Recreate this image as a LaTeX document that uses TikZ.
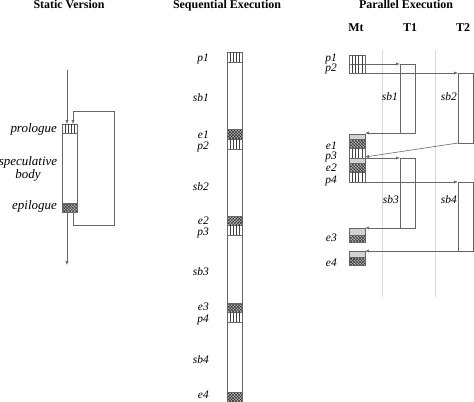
\documentclass[tikz,border=0pt]{standalone}
\usepackage{fontspec}
\setmainfont{Liberation Serif}
\usetikzlibrary{arrows.meta,patterns}
\tikzset{
  ln/.style={draw=black!60, line width=0.6pt},
  guide/.style={draw=black!15, line width=0.7pt},
  hl/.style={draw=black!75, line width=0.45pt},
  tip/.style={-{Latex[length=4pt,width=3.2pt]}},
  lab/.style={font=\fontsize{11.5}{11.5}\selectfont\itshape, inner sep=0pt, anchor=base east},
  slab/.style={font=\fontsize{13}{13}\selectfont\itshape, inner sep=0pt, anchor=base east},
  ttl/.style={font=\fontsize{12}{12}\selectfont\bfseries, inner sep=0pt, anchor=base},
}
% vertical-hatched cell
\newcommand\vhcell[4]{%
  \draw[ln, fill=white] (#1,#2) rectangle (#3,#4);
  \foreach \k in {1,...,4}{\draw[hl] ({#1+\k*(#3-#1)/5},#2) -- ({#1+\k*(#3-#1)/5},#4);}
}
% cross-hatched cell
\newcommand\xhcell[4]{%
  \fill[gray!55] (#1,#2) rectangle (#3,#4);
  \fill[pattern=crosshatch, pattern color=black!85] (#1,#2) rectangle (#3,#4);
  \draw[ln] (#1,#2) rectangle (#3,#4);
}
% gray+crosshatch cell (parallel epilogues)
\newcommand\gecell[3]{%
  \draw[ln, fill=gray!35] (349,#1) rectangle (365,#2);
  \xhcell{349}{#2}{365}{#3}
}
\begin{document}
\begin{tikzpicture}[x=1bp, y=-1bp]
\useasboundingbox (0,0) rectangle (474,401);

% ---------- titles ----------
\node[ttl] (tStatic) at (69,8) {Static Version};
\node[ttl] (tSeq) at (227,8) {Sequential Execution};
\node[ttl] (tPar) at (406,8) {Parallel Execution};
\node[ttl] (hMt) at (356,31) {Mt};
\node[ttl] (hT1) at (410,31) {T1};
\node[ttl] (hT2) at (463,31) {T2};

% ---------- static version ----------
\draw[ln, fill=white] (62,124) rectangle (77,212);
\vhcell{62}{124}{77}{133}
\xhcell{62}{203}{77}{212}
\coordinate (s0) at (67,70);
\coordinate (sIn) at (67,124);
\coordinate (sOut) at (67,212);
\coordinate (sEnd) at (67,265);
\draw[ln,tip] (s0) -- (sIn);
\draw[ln,tip] (sOut) -- (sEnd);
\coordinate (lA) at (73,212);
\coordinate (lB) at (73,225);
\coordinate (lC) at (114,225);
\coordinate (lD) at (114,111);
\coordinate (lE) at (73,111);
\coordinate (lF) at (73,124);
\draw[ln,tip] (lA) -- (lB) -- (lC) -- (lD) -- (lE) -- (lF);
\node[slab] (lPro) at (57,132) {prologue};
\node[slab, anchor=base] (lSpec) at (28,165) {speculative};
\node[slab, anchor=base] (lBody) at (28,178) {body};
\node[slab] (lEpi) at (57,209) {epilogue};

% ---------- sequential execution ----------
\draw[ln, fill=white] (227,52) rectangle (242,404);
\vhcell{227}{52}{242}{62}
\xhcell{227}{129}{242}{139}
\vhcell{227}{139}{242}{149}
\xhcell{227}{216}{242}{225}
\vhcell{227}{225}{242}{235}
\xhcell{227}{303}{242}{312}
\vhcell{227}{312}{242}{322}
\xhcell{227}{392}{242}{404}
\node[lab] (qp1) at (209,61) {p1};
\node[lab] (qsb1) at (209,101) {sb1};
\node[lab] (qe1) at (209,138) {e1};
\node[lab] (qp2) at (209,149) {p2};
\node[lab] (qsb2) at (209,190) {sb2};
\node[lab] (qe2) at (209,224) {e2};
\node[lab] (qp3) at (209,235) {p3};
\node[lab] (qsb3) at (209,275) {sb3};
\node[lab] (qe3) at (209,310) {e3};
\node[lab] (qp4) at (209,322) {p4};
\node[lab] (qsb4) at (209,363) {sb4};
\node[lab] (qe4) at (209,398) {e4};

% ---------- parallel execution ----------
\coordinate (g1a) at (382,50); \coordinate (g1b) at (382,297);
\coordinate (g2a) at (435,50); \coordinate (g2b) at (435,297);
\draw[guide] (g1a) -- (g1b);
\draw[guide] (g2a) -- (g2b);

% main thread cells
\vhcell{349}{55}{365}{64}
\vhcell{349}{64}{365}{73}
\gecell{134}{139}{148}
\vhcell{349}{148}{365}{158}
\gecell{158}{163}{172}
\vhcell{349}{172}{365}{182}
\gecell{228}{235}{242}
\gecell{251}{257}{265}

% thread bodies
\draw[ln] (400,64) rectangle (415,133);
\draw[ln] (458,73) rectangle (473,143);
\draw[ln] (400,158) rectangle (415,228);
\draw[ln] (458,182) rectangle (473,251);

% connectors
\coordinate (mP1) at (365,64);  \coordinate (a1) at (400,64);
\coordinate (r1) at (415,133);  \coordinate (mE1) at (365,133);
\coordinate (mP2) at (365,73);  \coordinate (a2) at (458,73);
\coordinate (r2) at (458,143);  \coordinate (mE2) at (365,157);
\coordinate (mP3) at (365,158); \coordinate (a3) at (400,158);
\coordinate (r3) at (415,228);  \coordinate (mE3) at (365,228);
\coordinate (mP4) at (365,182); \coordinate (a4) at (458,182);
\coordinate (r4) at (473,251);  \coordinate (mE4) at (365,251);
\draw[ln,tip] (mP1) -- (a1);
\draw[ln,tip] (r1) -- (mE1);
\draw[ln,tip] (mP2) -- (a2);
\draw[ln,tip] (r2) -- (mE2);
\draw[ln,tip] (mP3) -- (a3);
\draw[ln,tip] (r3) -- (mE3);
\draw[ln,tip] (mP4) -- (a4);
\draw[ln,tip] (r4) -- (mE4);

% labels
\node[lab] (pp1) at (337,61) {p1};
\node[lab] (pp2) at (337,71) {p2};
\node[lab] (psb1) at (398,100) {sb1};
\node[lab] (psb2) at (457,100) {sb2};
\node[lab] (pe1) at (337,149) {e1};
\node[lab] (pp3) at (337,159) {p3};
\node[lab] (pe2) at (337,171) {e2};
\node[lab] (pp4) at (337,183) {p4};
\node[lab] (psb3) at (399,203) {sb3};
\node[lab] (psb4) at (457,203) {sb4};
\node[lab] (pe3) at (337,241) {e3};
\node[lab] (pe4) at (337,266) {e4};
\end{tikzpicture}
\end{document}
